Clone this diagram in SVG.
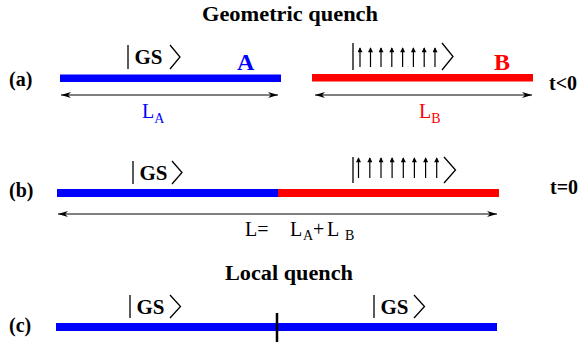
<svg xmlns="http://www.w3.org/2000/svg" width="582" height="342" viewBox="0 0 582 342">
<style>
.title{font-family:"Liberation Serif","Times New Roman",serif;font-weight:bold;font-size:20px;fill:#000}
.lbl{font-family:"Liberation Serif","Times New Roman",serif;font-weight:bold;font-size:20px;fill:#000}
.ket{font-family:"Liberation Serif","Times New Roman",serif;font-weight:bold;font-size:21px;fill:#000}
.reg{font-family:"Liberation Serif","Times New Roman",serif;font-size:20px}
.sub{font-size:14px}
.bar{stroke:#000;stroke-width:1.3;fill:none}
.dim{stroke:#000;stroke-width:1;fill:none}
.spin{stroke:#000;stroke-width:1.2;fill:none}
</style>
<defs>
<marker id="ah" viewBox="0 0 10 6" refX="10" refY="3" markerWidth="10" markerHeight="6" markerUnits="userSpaceOnUse" orient="auto-start-reverse">
<path d="M0,0 L10,3 L0,6 L3,3 Z" fill="#000"/>
</marker>
<marker id="sh" viewBox="0 0 6 6" refX="5" refY="3" markerWidth="6" markerHeight="5" markerUnits="userSpaceOnUse" orient="auto">
<path d="M0,0 L6,3 L0,6 Z" fill="#000"/>
</marker>
</defs>

<g id="title-geometric"><text class="title" x="290" y="21" text-anchor="middle" textLength="176" lengthAdjust="spacingAndGlyphs">Geometric quench</text></g>

<!-- (a) -->
<g id="label-a"><text class="lbl" x="9" y="86">(a)</text></g>
<g id="chain-A"><rect x="60" y="74.5" width="221" height="7.5" fill="#0000ff"/>
<text class="lbl" x="237" y="70" style="font-size:24px;fill:#0000ff">A</text></g>
<g id="chain-B"><rect x="312" y="74" width="221" height="7.5" fill="#ff0000"/>
<text class="lbl" x="494" y="70" style="font-size:24px;fill:#ff0000">B</text></g>
<g id="time-a"><text class="lbl" x="549" y="90">t&lt;0</text></g>
<g id="ket-a-GS"><line class="bar" x1="128" y1="45" x2="128" y2="69"/>
<text class="ket" x="134.5" y="63.5">GS</text>
<polyline class="bar" points="170,45 180,57 170,69"/></g>
<g id="ket-a-spin"><line class="bar" x1="353" y1="43" x2="353" y2="70"/>
<g class="spin">
<line x1="360" y1="67" x2="360" y2="48" marker-end="url(#sh)"/>
<line x1="370.5" y1="67" x2="370.5" y2="48" marker-end="url(#sh)"/>
<line x1="381" y1="67" x2="381" y2="48" marker-end="url(#sh)"/>
<line x1="391.8" y1="67" x2="391.8" y2="48" marker-end="url(#sh)"/>
<line x1="402.6" y1="67" x2="402.6" y2="48" marker-end="url(#sh)"/>
<line x1="413.4" y1="67" x2="413.4" y2="48" marker-end="url(#sh)"/>
<line x1="424.2" y1="67" x2="424.2" y2="48" marker-end="url(#sh)"/>
<line x1="435" y1="67" x2="435" y2="48" marker-end="url(#sh)"/>
</g>
<polyline class="bar" points="442,43 453,56.5 442,70"/></g>
<g id="len-A"><text class="reg" x="142" y="118" fill="#0000ff">L<tspan class="sub" dy="5">A</tspan></text></g>
<g id="len-B"><text class="reg" x="419" y="118" fill="#ff0000">L<tspan class="sub" dy="5">B</tspan></text></g>

<!-- (b) -->
<g id="label-b"><text class="lbl" x="9" y="197">(b)</text></g>
<g id="chain-AB"><rect x="57" y="189" width="221" height="8" fill="#0000ff"/>
<rect x="278" y="189" width="221" height="8" fill="#ff0000"/></g>
<g id="time-b"><text class="lbl" x="550" y="194">t=0</text></g>
<g id="ket-b-GS"><line class="bar" x1="133" y1="161" x2="133" y2="184"/>
<text class="ket" x="139.5" y="180">GS</text>
<polyline class="bar" points="172,161 182,172.5 172,184"/></g>
<g id="ket-b-spin"><line class="bar" x1="353" y1="157" x2="353" y2="183"/>
<g class="spin">
<line x1="358.5" y1="178" x2="358.5" y2="158" marker-end="url(#sh)"/>
<line x1="369.8" y1="178" x2="369.8" y2="158" marker-end="url(#sh)"/>
<line x1="381" y1="178" x2="381" y2="158" marker-end="url(#sh)"/>
<line x1="392.1" y1="178" x2="392.1" y2="158" marker-end="url(#sh)"/>
<line x1="403.3" y1="178" x2="403.3" y2="158" marker-end="url(#sh)"/>
<line x1="414.4" y1="178" x2="414.4" y2="158" marker-end="url(#sh)"/>
<line x1="425.6" y1="178" x2="425.6" y2="158" marker-end="url(#sh)"/>
<line x1="436.7" y1="178" x2="436.7" y2="158" marker-end="url(#sh)"/>
</g>
<polyline class="bar" points="444,157 455.5,170 444,183"/></g>
<g id="len-total"><text class="reg" y="236" fill="#000"><tspan x="245">L=</tspan><tspan x="290">L</tspan><tspan class="sub" x="303" dy="4">A</tspan><tspan x="313" dy="-4">+</tspan><tspan x="327">L</tspan><tspan class="sub" x="345" dy="4">B</tspan></text></g>

<!-- (c) -->
<g id="title-local"><text class="title" x="289" y="280" text-anchor="middle" textLength="128" lengthAdjust="spacingAndGlyphs">Local quench</text></g>
<g id="label-c"><text class="lbl" x="9" y="332">(c)</text></g>
<g id="chain-C"><rect x="56" y="323" width="441" height="8" fill="#0000ff"/></g>
<g id="defect"><line x1="277" y1="313" x2="277" y2="342" stroke="#000" stroke-width="2.5"/></g>
<g id="ket-c-left"><line class="bar" x1="130" y1="295" x2="130" y2="318"/>
<text class="ket" x="136.5" y="313.5">GS</text>
<polyline class="bar" points="170,295 180.5,306.5 170,318"/></g>
<g id="ket-c-right"><line class="bar" x1="374" y1="295" x2="374" y2="318"/>
<text class="ket" x="380.5" y="313.5">GS</text>
<polyline class="bar" points="414,295 424.5,306.5 414,318"/></g>

<g id="connectors">
<line class="dim" x1="61" y1="95" x2="278" y2="95" marker-start="url(#ah)" marker-end="url(#ah)"/>
<line class="dim" x1="315" y1="95" x2="532" y2="95" marker-start="url(#ah)" marker-end="url(#ah)"/>
<line class="dim" x1="58" y1="214" x2="497" y2="214" marker-start="url(#ah)" marker-end="url(#ah)"/>
</g>
</svg>
